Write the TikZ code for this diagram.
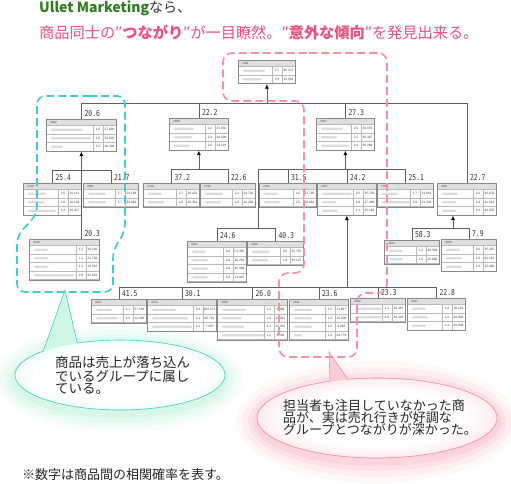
\documentclass[tikz,border=0pt]{standalone}
\usepackage{fontspec}
\usetikzlibrary{positioning,arrows.meta}
\newfontfamily\jp{Noto Sans CJK JP}
\newfontfamily\ratefont{DejaVu Sans Mono}[FakeStretch=0.8]
\newfontfamily\cellfont{Liberation Sans}

\definecolor{ulgreen}{HTML}{2E7D1E}
\definecolor{headpink}{HTML}{F0507E}
\definecolor{dashpink}{HTML}{F7909F}
\definecolor{dashcyan}{HTML}{3CCFCF}
\definecolor{mint}{HTML}{B0F2D4}
\definecolor{blush}{HTML}{F8A8BE}
\definecolor{gridgray}{HTML}{8A8A8A}

\pgfdeclareradialshading{mintfade}{\pgfpoint{0bp}{0bp}}{color(0bp)=(white); color(20bp)=(white); color(50bp)=(mint)}
\pgfdeclareradialshading{blushfade}{\pgfpoint{0bp}{0bp}}{color(0bp)=(white); color(18bp)=(white); color(50bp)=(blush)}

\tikzset{
  goods/.style={draw=gridgray, line width=0.7pt, inner sep=0pt},
  headfill/.style={fill=gray!25},
  rowline/.style={draw=gray!55, line width=0.35pt},
  smudge/.style={fill=gray!28, rounded corners=1pt},
  numtext/.style={font=\cellfont\fontsize{3.2}{3.5}\selectfont, inner sep=0pt, text=black!75},
  codetext/.style={font=\cellfont\fontsize{3}{3.5}\selectfont, inner sep=0pt, text=black!70},
  rate/.style={font=\ratefont\fontsize{8}{8}\selectfont, inner sep=0pt, text=black!80},
  link/.style={draw=gray!75!black, line width=0.6pt},
  arr/.style={link, -{Latex[length=4.5pt,width=4pt,color=black]}},
  note/.style={font=\jp\fontsize{13.5}{12.3}\selectfont, align=left, inner sep=0pt, text=black!85},
  cyandash/.style={draw=dashcyan, line width=1.6pt, dash pattern=on 8pt off 4pt},
  pinkdash/.style={draw=dashpink, line width=1.6pt, dash pattern=on 8pt off 4pt},
}

% goods table: name, x, y, width, code, rows (smudge/ratio/count)
\newcommand{\goodsbox}[6]{%
  \foreach \r [count=\n] in {#6} {\xdef\nrows{\n}}%
  \pgfmathsetmacro\bh{6.5+8.5*\nrows}%
  \fill[white] (#2,#3) rectangle ++(#4,\bh);
  \fill[headfill] (#2,#3) rectangle ++(#4,6.5);
  \node[codetext, anchor=west] at (#2+4,#3+3.3) {#5};
  \foreach \sw/\rt/\ct [count=\i] in {#6} {
    \pgfmathsetmacro\ry{#3+6.5+8.5*(\i-1)}
    \draw[rowline] (#2,\ry) rectangle ++(#4,8.5);
    \draw[rowline] (#2+#4-23,\ry) -- ++(0,8.5);
    \draw[rowline] (#2+#4-13,\ry) -- ++(0,8.5);
    \fill[smudge] (#2+5,\ry+3.2) rectangle ++(\sw,2.2);
    \node[numtext] at (#2+#4-18,\ry+4.25) {\rt};
    \node[numtext] at (#2+#4-6.5,\ry+4.25) {\ct};
  }
  \node[goods, minimum width=#4pt, minimum height=\bh pt, anchor=north west] (#1) at (#2,#3) {};
}

\begin{document}
\begin{tikzpicture}[x=1pt,y=-1pt]
\useasboundingbox (0,0) rectangle (511,484);
\fill[white] (0,0) rectangle (511,484);

% title
\node[anchor=west, inner sep=0pt, font=\jp\fontsize{14}{14}\selectfont, text=black!80] (title) at (39,8)
  {{\color{ulgreen}\bfseries Ullet Marketing}なら、};
\node[anchor=west, inner sep=0pt, font=\jp\fontsize{15.2}{15}\selectfont, text=headpink] (lead) at (39,33)
  {商品同士の″\textbf{つながり}″が一目瞭然。″\textbf{意外な傾向}″を発見出来る。};

% callout glow
\foreach \a/\b/\o in {124/54/0.08, 119/49/0.12, 114/44/0.16, 109/39/0.24}
  \fill[mint, opacity=\o] (119,379) ellipse [x radius=\a, y radius=\b];
\foreach \a/\b/\o in {141/61/0.08, 135/55/0.12, 129/49/0.16, 124/44/0.24}
  \fill[blush, opacity=\o] (377,422) ellipse [x radius=\a, y radius=\b];

% cyan callout
\fill[mint!60] (120,375) ++(-114:105 and 35) arc[start angle=-114, end angle=223, x radius=105, y radius=35] -- (65,290) -- cycle;
\shade[shading=mintfade] (120,375) ellipse [x radius=104.5, y radius=34.5];
\draw[dashcyan, line width=0.6pt] (120,375) ++(-114:105 and 35) arc[start angle=-114, end angle=223, x radius=105, y radius=35] -- (65,290) -- cycle;
\node[note, anchor=north west] (noteA) at (55,356) {商品は売上が落ち込ん\\でいるグループに属し\\ている。};

% pink callout
\fill[blush!60] (377,418) ++(-104:120 and 40) arc[start angle=-104, end angle=247, x radius=120, y radius=40] -- (329,352) -- cycle;
\shade[shading=blushfade] (377,418) ellipse [x radius=119.5, y radius=39.5];
\draw[dashpink, line width=0.6pt] (377,418) ++(-104:120 and 40) arc[start angle=-104, end angle=247, x radius=120, y radius=40] -- (329,352) -- cycle;
\node[note, font=\jp\fontsize{13}{12.4}\selectfont, anchor=north west] (noteB) at (283,399) {担当者も注目していなかった商\\品が、実は売れ行きが好調な\\グループとつながりが深かった。};

% tables
\goodsbox{b1001}{238}{60}{57}{1001}{22/1.7/46.327, 18/2.3/32.504}
\goodsbox{b2002}{46}{119}{70}{2002}{32/1.6/17.890, 40/1.6/32.826, 12/2.2/16.309}
\goodsbox{b2008}{169}{118}{59}{2008}{20/2.2/21.932, 18/2.3/34.304, 16/2.5/26.119}
\goodsbox{b2007a}{316}{118}{58}{2007}{22/2.5/36.079, 16/2.2/36.347, 28/2.4/26.280}
\goodsbox{b2010a}{23}{183}{58}{2010}{18/2.5/15.113, 16/2.6/12.136, 28/2.4/20.427}
\goodsbox{b2001a}{83}{183}{55}{2001}{18/1.7/54.196, 18/1.7/43.069}
\goodsbox{b2010b}{143}{183}{56}{2010}{14/2.7/16.422, 16/1.8/26.361}
\goodsbox{b2013}{200}{183}{55}{2013}{18/2.2/24.726, 16/1.9/16.286}
\goodsbox{b2016}{259}{183}{57}{2016}{14/2.2/21.795, 16/2.5/26.862}
\goodsbox{b2007b}{317}{183}{59}{2007}{30/2.5/35.759, 14/1.8/27.468, 16/1.1/25.146}
\goodsbox{b2006}{377}{183}{56}{2006}{16/1.7/13.642, 28/2.9/21.236}
\goodsbox{b2001b}{437}{183}{59}{2001}{16/2.2/44.676, 14/2.0/41.412, 14/2.0/42.635}
\goodsbox{b4010}{29}{239}{70}{4010}{14/1.1/16.520, 14/1.1/21.740, 14/1.1/16.562, 40/2.0/35.653}
\goodsbox{b4002}{187}{241}{59}{4002}{14/4.0/51.355, 16/2.8/46.262, 16/2.8/45.999, 16/2.4/13.997}
\goodsbox{b4006}{247}{241}{56}{4006}{18/2.0/25.752, 16/1.9/26.127}
\goodsbox{b4003}{384}{240}{55}{4003}{14/1.2/40.346, 14/1.5/25.896}
\goodsbox{b4009}{441}{239}{55}{4009}{14/2.6/35.307, 16/1.6/62.161, 16/1.6/22.460}
\goodsbox{b4007}{91}{299}{55}{4007}{16/1.1/57.534, 22/1.3/12.326}
\goodsbox{b4013}{147}{299}{69}{4013}{24/3.4/102.472, 36/2.1/95.791, 40/1.2/7.452}
\goodsbox{b4008}{217}{299}{70}{4008}{24/1.2/5.408, 20/1.6/26.011, 22/1.1/15.912, 42/1.2/8.590}
\goodsbox{b4011}{289}{299}{59}{4011}{18/1.1/11.867, 18/1.3/15.500, 18/1.2/6.262, 8/1.3/34.779}
\goodsbox{b4012}{350}{298}{55}{4012}{26/1.1/15.467, 30/1.6/36.326}
\goodsbox{b4017}{407}{298}{58}{4017}{14/1.2/16.161, 16/1.2/10.005, 14/1.1/15.609}

% bars
\coordinate (barA) at (0,103.5);
\coordinate (barB) at (0,170);
\coordinate (barC) at (0,169.5);
\coordinate (joinD) at (258,169.5);
\coordinate (joinF) at (258,228);
\coordinate (joinE) at (453,228);
\coordinate (barG) at (0,287);

\draw[link] (b2002.north) -- (b2002.north |- barA) -- (b2001b.north |- barA) -- (b2001b.north);
\draw[link] (b2008.north) -- (b2008.north |- barA);
\draw[link] (b2007a.north) -- (b2007a.north |- barA);
\draw[arr] (b1001.south |- barA) -- (b1001.south);

\draw[link] (b2010a.north) -- (b2010a.north |- barB) -- (b2001a.north |- barB) -- (b2001a.north);
\draw[link] (b2002.south |- barB) -- (b2002.south |- b4010.north);
\draw[arr] (b2002.south |- barB) -- (b2002.south);

\draw[link] (b2010b.north) -- (b2010b.north |- barC) -- (b2013.north |- barC) -- (b2013.north);
\draw[arr] (b2008.south |- barC) -- (b2008.south);

\draw[link] (joinF) -- (joinD) -- (b2006.north |- joinD) -- (b2006.north);
\draw[link] (b2016.north) -- (b2016.north |- joinD);
\draw[link] (b2007b.north) -- (b2007b.north |- joinD);
\draw[arr] (b2007a.south |- joinD) -- (b2007a.south);
\draw[link] (b4002.north) -- (b4002.north |- joinF) -- (b4006.north |- joinF) -- (b4006.north);

\draw[link] (b4003.north) -- (b4003.north |- joinE) -- (b4009.north |- joinE) -- (b4009.north);
\draw[arr] (joinE) -- (joinE |- b2001b.south);

\draw[link] (b4007.north) -- (b4007.north |- barG) -- (b4017.north |- barG) -- (b4017.north);
\foreach \b in {b4013,b4008,b4011,b4012}
  \draw[link] (\b.north) -- (\b.north |- barG);
\draw[arr] (b2007b.south |- barG) -- (b2007b.south);

% rates
\node[rate, above right=2pt and 3pt of b2002.north] (r2002) {20.6};
\node[rate, above right=2pt and 3pt of b2008.north] (r2008) {22.2};
\node[rate, above right=2pt and 3pt of b2007a.north] (r2007a) {27.3};
\node[rate, above right=2pt and 3pt of b2001b.north] (r2001b) {22.7};
\node[rate, above right=2pt and 3pt of b2010a.north] (r2010a) {25.4};
\node[rate, above right=2pt and 3pt of b2001a.north] (r2001a) {21.7};
\node[rate, above right=2pt and 3pt of b2010b.north] (r2010b) {37.2};
\node[rate, above right=2pt and 3pt of b2013.north] (r2013) {22.6};
\node[rate, above right=2pt and 3pt of b2016.north] (r2016) {31.6};
\node[rate, above right=2pt and 3pt of b2007b.north] (r2007b) {24.2};
\node[rate, above right=2pt and 3pt of b2006.north] (r2006) {25.1};
\node[rate, anchor=south west] (r4010) at ([xshift=3pt,yshift=2pt]b2002.south |- b4010.north) {20.3};
\node[rate, above right=2pt and 3pt of b4002.north] (r4002) {24.6};
\node[rate, above right=2pt and 3pt of b4006.north] (r4006) {40.3};
\node[rate, above right=2pt and 3pt of b4003.north] (r4003) {58.3};
\node[rate, above right=2pt and 3pt of b4009.north] (r4009) {7.9};
\node[rate, above right=2pt and 3pt of b4007.north] (r4007) {41.5};
\node[rate, above right=2pt and 3pt of b4013.north] (r4013) {30.1};
\node[rate, above right=2pt and 3pt of b4008.north] (r4008) {26.0};
\node[rate, above right=2pt and 3pt of b4011.north] (r4011) {23.6};
\node[rate, above right=2pt and 3pt of b4012.north] (r4012) {23.3};
\node[rate, above right=2pt and 3pt of b4017.north] (r4017) {22.8};

% dashed groups
\draw[cyandash, rounded corners=8pt] (81,96) -- (125,96) -- (125,232) -- (113,250) -- (113,292)
  -- (17,292) -- (17,236) -- (37,214) -- (37,96) -- cycle;
\draw[pinkdash, rounded corners=9pt] (300,53) -- (387,53) -- (387,293) -- (357,293) -- (357,357)
  -- (279,357) -- (279,273) -- (304,273) -- (304,101) -- (223,101) -- (223,53) -- cycle;

% footnote
\node[anchor=west, inner sep=0pt, font=\jp\fontsize{13}{13}\selectfont, text=black!85] (foot) at (22,475)
  {※数字は商品間の相関確率を表す。};
\end{tikzpicture}
\end{document}
